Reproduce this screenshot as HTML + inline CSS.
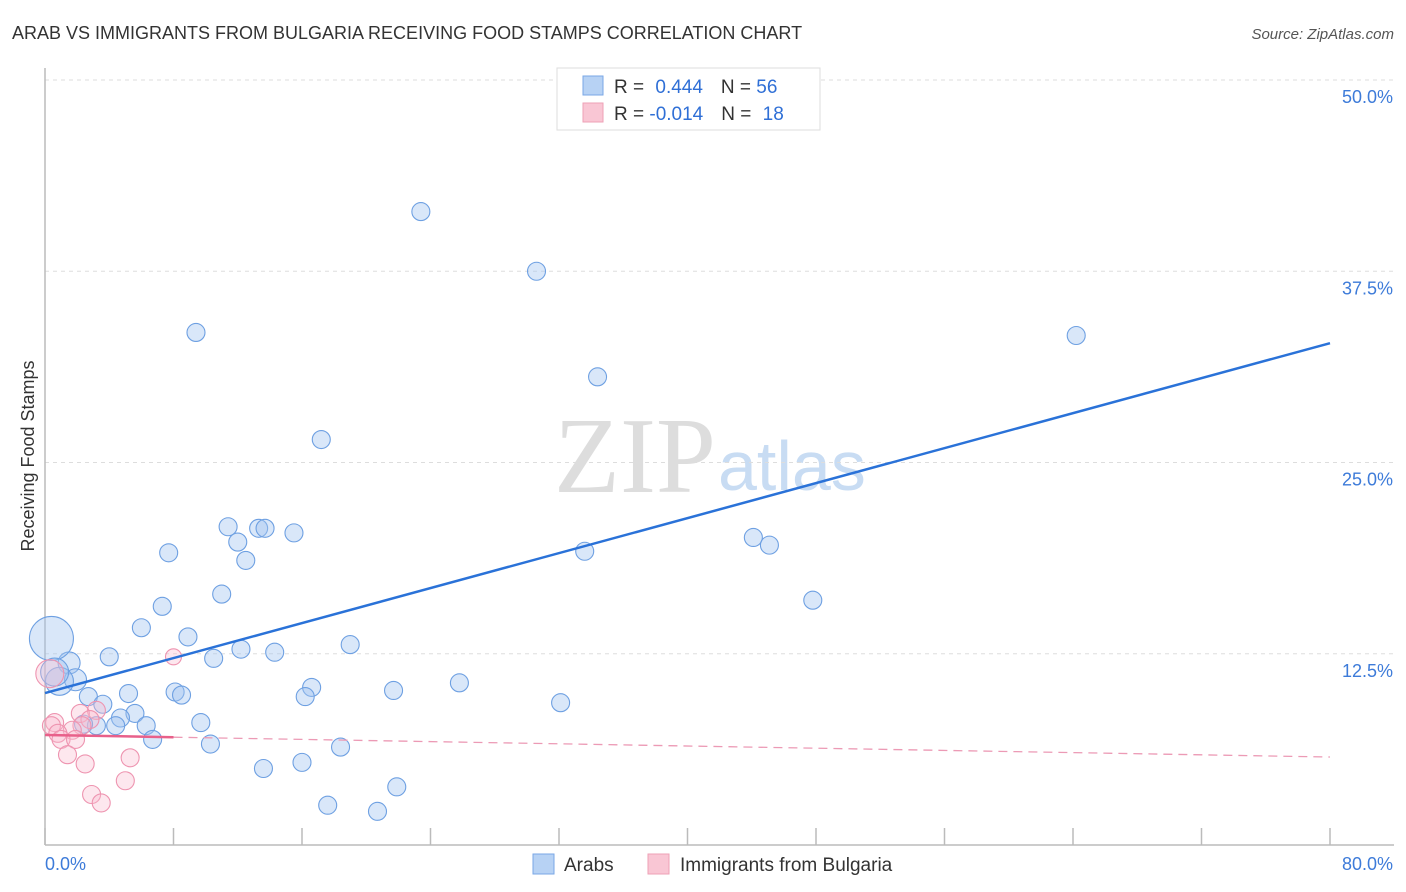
<!DOCTYPE html>
<html><head><meta charset="utf-8"><style>
body{margin:0;background:#fff;font-family:"Liberation Sans",sans-serif;}
svg{display:block}
</style></head><body>
<svg id="chart" width="1406" height="892">
<text x="12" y="39" font-size="18" fill="#333">ARAB VS IMMIGRANTS FROM BULGARIA RECEIVING FOOD STAMPS CORRELATION CHART</text>
<text x="1394" y="39" font-size="15" fill="#555" font-style="italic" text-anchor="end">Source: ZipAtlas.com</text>
<text x="34" y="456" font-size="18" fill="#333" transform="rotate(-90 34 456)" text-anchor="middle">Receiving Food Stamps</text>
<text x="716" y="492" font-size="108" fill="#ddd" text-anchor="end" font-family="Liberation Serif">ZIP</text>
<text x="718" y="490" font-size="70" fill="#c8dcf3">atlas</text>
<g id="grid"></g><g id="axes"></g><g id="pts"></g><g id="trend"></g>
<g>
<rect x="557" y="68" width="263" height="62" fill="#fff" stroke="#ddd"/>
<rect x="583" y="76" width="20" height="19" fill="#b7d2f4" stroke="#7aa7e6"/>
<rect x="583" y="103" width="20" height="19" fill="#f9c6d4" stroke="#eea0b6"/>
<text x="614" y="93" font-size="19" fill="#333">R = <tspan fill="#2f6fd6" dx="6">0.444</tspan><tspan dx="18">N = </tspan><tspan fill="#2f6fd6">56</tspan></text>
<text x="614" y="120" font-size="19" fill="#333">R = <tspan fill="#2f6fd6">-0.014</tspan><tspan dx="18">N = </tspan><tspan fill="#2f6fd6" dx="6">18</tspan></text>
</g>
<g>
<rect x="533" y="854" width="21" height="20" fill="#b7d2f4" stroke="#7aa7e6"/>
<text x="564" y="871" font-size="19" fill="#333">Arabs</text>
<rect x="648" y="854" width="21" height="20" fill="#f9c6d4" stroke="#eea0b6"/>
<text x="680" y="871" font-size="19" fill="#333">Immigrants from Bulgaria</text>
</g>
</svg>
<script>
const xTicks=[0,8,16,24,32,40,48,56,64,72,80];
const yTicks=[12.5,25,37.5,50];
const yTickLabels=["12.5%","25.0%","37.5%","50.0%"];
const arabX=[23.4,30.6,9.4,64.2,34.4,17.2,11.4,13.3,13.7,15.5,12.0,44.1,45.1,7.7,33.6,12.5,47.8,11.0,7.3,6.0,8.9,19.0,12.2,4.0,10.5,14.3,1.5,1.9,0.9,25.8,16.6,21.7,8.1,8.5,2.7,5.2,16.2,3.6,32.1,5.6,4.7,9.7,6.3,4.4,3.2,2.4,6.7,10.3,18.4,13.6,16.0,21.9,17.6,20.7,0.4,0.6];
const arabY=[41.4,37.5,33.5,33.3,30.6,26.5,20.8,20.7,20.7,20.4,19.8,20.1,19.6,19.1,19.2,18.6,16.0,16.4,15.6,14.2,13.6,13.1,12.8,12.3,12.2,12.6,11.9,10.8,10.7,10.6,10.3,10.1,10.0,9.8,9.7,9.9,9.7,9.2,9.3,8.6,8.3,8.0,7.8,7.8,7.8,7.9,6.9,6.6,6.4,5.0,5.4,3.8,2.6,2.2,13.5,11.3];
const arabR=[9,9,9,9,9,9,9,9,9,9,9,9,9,9,9,9,9,9,9,9,9,9,9,9,9,9,11,11,14,9,9,9,9,9,9,9,9,9,9,9,9,9,9,9,9,9,9,9,9,9,9,9,9,9,22,14];
const bulX=[0.3,8.0,0.6,0.4,3.2,2.2,2.8,2.3,1.7,0.8,1.0,1.9,1.4,5.3,2.5,5.0,2.9,3.5];
const bulY=[11.2,12.3,8.0,7.8,8.8,8.6,8.2,7.8,7.5,7.3,6.9,6.9,5.9,5.7,5.3,4.2,3.3,2.75];
const bulR=[14,8,9,9,9,9,9,9,9,9,9,9,9,9,9,9,9,9];
const arabTrend=[9.93,32.8];
const bulTrend=[7.19,5.75];
const NS="http://www.w3.org/2000/svg";
const X=v=>45+v/80*1285, Y=v=>845-v*15.3;
function mk(t,a,p){const e=document.createElementNS(NS,t);for(const k in a)e.setAttribute(k,a[k]);p.appendChild(e);return e;}
const grid=document.getElementById('grid'),axes=document.getElementById('axes'),pts=document.getElementById('pts'),tr=document.getElementById('trend');
yTicks.forEach((v,i)=>{
 const l=mk('line',{x1:45,x2:1394,y1:Y(v),y2:Y(v),stroke:'#ddd','stroke-dasharray':'4,4'},grid);
 
 
 const t=mk('text',{x:1393,y:Y(v)+23,'font-size':18,fill:'#3d7bd9','text-anchor':'end'},axes);
 t.textContent=yTickLabels[i];
 
 
});
const ax=mk('line',{x1:45,x2:45,y1:68,y2:845,stroke:'#bbb','stroke-width':1.5},axes);


const bx=mk('line',{x1:45,x2:1394,y1:845,y2:845,stroke:'#bbb','stroke-width':1.5},axes);


xTicks.forEach(v=>{
 const l=mk('line',{x1:X(v),x2:X(v),y1:828,y2:845,stroke:'#bbb','stroke-width':1.5},axes);
 
 
});
[[0,'start','0.0%',45],[80,'end','80.0%',1393]].forEach(a=>{
 const t=mk('text',{x:a[3],y:870,'font-size':18,fill:'#3d7bd9','text-anchor':a[1]},axes);
 t.textContent=a[2];
 
 
});
arabX.forEach((v,i)=>{
 const c=mk('circle',{cx:X(v),cy:Y(arabY[i]),r:arabR[i],fill:'rgba(160,195,240,0.4)',stroke:'#6ea0e2','stroke-width':1.1},pts);
 
 
});
bulX.forEach((v,i)=>{
 const c=mk('circle',{cx:X(v),cy:Y(bulY[i]),r:bulR[i],fill:'rgba(248,185,205,0.35)',stroke:'#ee94b0','stroke-width':1.1},pts);
 
 
});
const at=mk('line',{x1:X(0),y1:Y(arabTrend[0]),x2:X(80),y2:Y(arabTrend[1]),stroke:'#2a72d8','stroke-width':2.5},tr);


const by=v=>bulTrend[0]+(bulTrend[1]-bulTrend[0])*v/80;
const bt=mk('line',{x1:X(0),y1:Y(bulTrend[0]),x2:X(8),y2:Y(by(8)),stroke:'#e8608a','stroke-width':2.5},tr);


const bd=mk('line',{x1:X(8),y1:Y(by(8)),x2:X(80),y2:Y(bulTrend[1]),stroke:'#ec9ab5','stroke-width':1.3,'stroke-dasharray':'9,6'},tr);


</script>
</body></html>
